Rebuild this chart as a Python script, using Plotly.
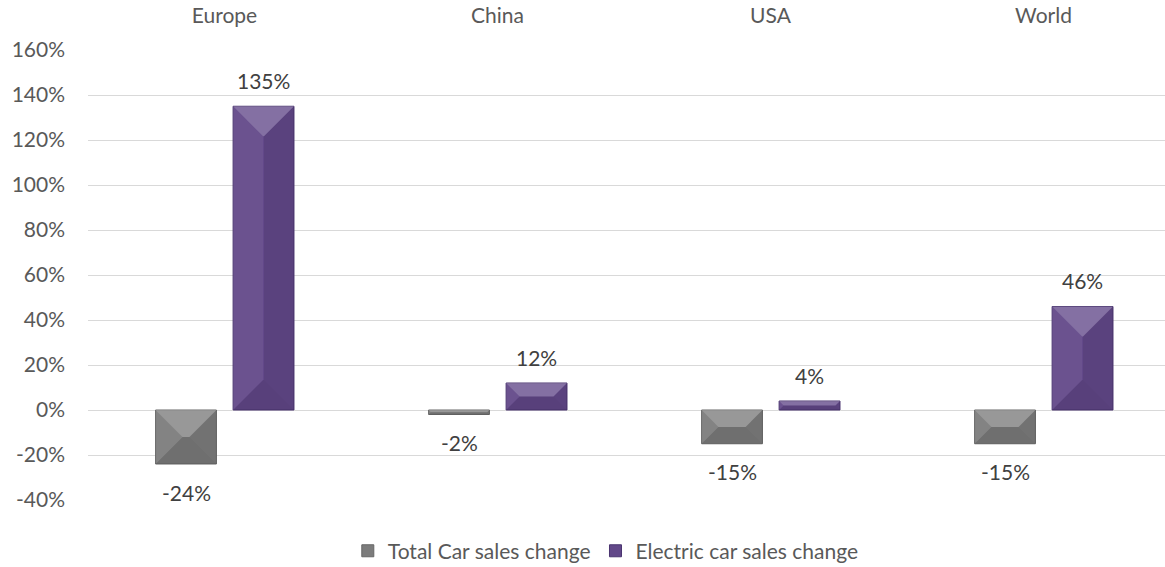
import plotly.graph_objects as go

categories = ["Europe", "China", "USA", "World"]
total_change = [-24, -2, -15, -15]
electric_change = [135, 12, 4, 46]
series_names = ["Total Car sales change", "Electric car sales change"]
y_ticks = [-40, -20, 0, 20, 40, 60, 80, 100, 120, 140, 160]

FONT = "Lato"
GRAY = "#7c7c7c"
PURPLE = "#624889"
X_RANGE = [-0.5, 3.445]
Y_RANGE = [-40, 160]
ML, MR, MT, MB = 88, 0, 50, 67
W, H = 1165, 567
px_x = (W - ML - MR) / (X_RANGE[1] - X_RANGE[0])   # px per category unit
px_y = (H - MT - MB) / (Y_RANGE[1] - Y_RANGE[0])   # px per percent

BAR_W = 0.223
CENTERS = [-0.141, 0.143]

fig = go.Figure()
series = [total_change, electric_change]
colors = [GRAY, PURPLE]
edges = ["#666666", "#4a3470"]
xs = list(range(len(categories)))

for s, (vals, col, edge, name, c) in enumerate(zip(series, colors, edges, series_names, CENTERS)):
    fig.add_trace(go.Bar(
        x=xs, y=vals, name=name, width=BAR_W, offset=c - BAR_W / 2,
        marker=dict(color=col, line=dict(color=edge, width=1)),
        hoverinfo="skip",
    ))

shapes = []
annotations = []
for s, vals in enumerate(series):
    for i, v in enumerate(vals):
        xl = i + CENTERS[s] - BAR_W / 2
        xr = i + CENTERS[s] + BAR_W / 2
        yt, yb = max(v, 0), min(v, 0)
        hpx = (yt - yb) * px_y
        wpx = BAR_W * px_x
        d = min(30, wpx / 2, hpx / 2)
        dx = d / px_x
        dy = d / px_y
        faces = [
            ([(xl, yt), (xr, yt), (xr - dx, yt - dy), (xl + dx, yt - dy)], "rgba(255,255,255,0.22)"),
            ([(xl, yb), (xr, yb), (xr - dx, yb + dy), (xl + dx, yb + dy)], "rgba(0,0,0,0.10)"),
            ([(xl, yt), (xl + dx, yt - dy), (xl + dx, yb + dy), (xl, yb)], "rgba(255,255,255,0.06)"),
            ([(xr, yt), (xr - dx, yt - dy), (xr - dx, yb + dy), (xr, yb)], "rgba(0,0,0,0.08)"),
        ]
        for pts, fc in faces:
            path = "M " + " L ".join(f"{px},{py}" for px, py in pts) + " Z"
            shapes.append(dict(type="path", path=path, xref="x", yref="y",
                               fillcolor=fc, line=dict(width=0), layer="above"))
        annotations.append(dict(
            x=i + CENTERS[s], y=v, xref="x", yref="y", text=f"{v}%",
            showarrow=False, yanchor="middle",
            yshift=26 if v >= 0 else -28,
            font=dict(family=FONT, size=21, color="#404040"),
        ))

fig.update_layout(
    width=W, height=H,
    margin=dict(l=ML, r=MR, t=MT, b=MB, autoexpand=False),
    plot_bgcolor="white", paper_bgcolor="white",
    barmode="overlay",
    shapes=shapes, annotations=annotations,
    font=dict(family=FONT, size=21, color="#595959"),
    showlegend=True,
    legend=dict(orientation="h", xref="container", x=0.52, xanchor="center",
                yref="container", y=0.028, yanchor="middle",
                font=dict(family=FONT, size=21, color="#595959"),
                itemwidth=30, traceorder="normal", tracegroupgap=0),
    xaxis=dict(range=X_RANGE, tickvals=xs, ticktext=categories, side="top",
               showgrid=False, zeroline=False, showline=False, automargin=False,
               ticks="", ticklabelstandoff=22, fixedrange=True),
    yaxis=dict(range=Y_RANGE, tickvals=y_ticks, ticktext=[f"{t}%" for t in y_ticks],
               showgrid=True, gridcolor="#d9d9d9", gridwidth=1, automargin=False,
               zeroline=True, zerolinecolor="#d9d9d9", zerolinewidth=1,
               showline=False, ticks="", ticklabelstandoff=22, fixedrange=True),
)

fig.write_html("out.html", config={"displayModeBar": False},
               post_script="document.body.style.margin='0';document.body.style.overflow='hidden';")
